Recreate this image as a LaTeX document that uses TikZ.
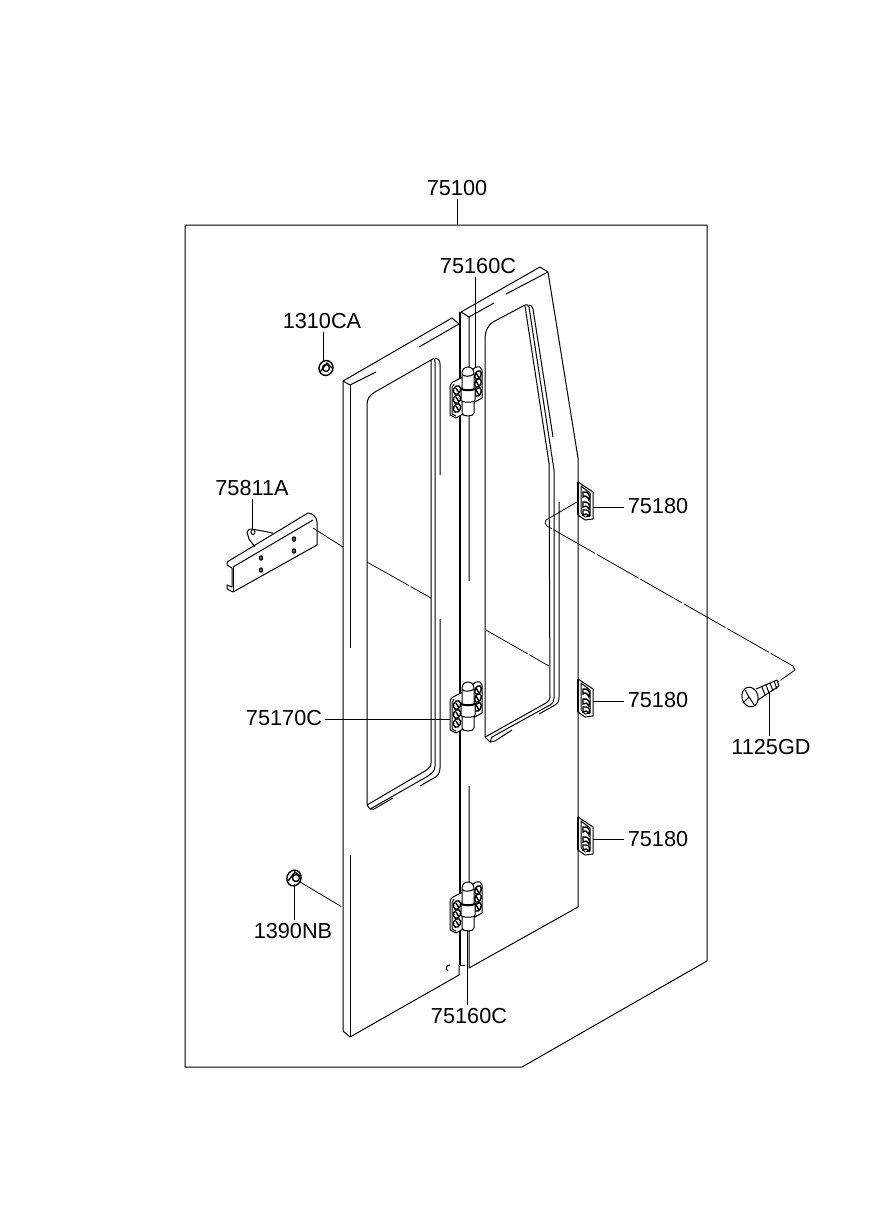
\documentclass[tikz,border=0pt]{standalone}
\usepackage{fontspec}
\setmainfont{Liberation Sans}
\tikzset{
  part/.style={line width=0.5pt,line join=round},
  thick door/.style={line width=1.1pt},
  leader/.style={line width=0.5pt},
  dash line/.style={line width=0.4pt,dash pattern=on 24pt off 1pt},
  label/.style={inner sep=1.5pt,font=\fontsize{10.85pt}{12pt}\selectfont},
  hinge/.pic={
    \draw[part,fill=white] (7,-21) .. controls (8,-24) and (12,-26) .. (15,-25) -- (17,-22) -- (17,6) -- (8,11) -- cycle;
    \draw[part,fill=white] (-2,-15) -- (-12,-10) .. controls (-15,-8) and (-15,-6) .. (-15,-4) -- (-15,23) -- (-9,26) -- (-2,22) -- cycle;
    \draw[part] (-11,-8) .. controls (-13,-6) and (-13,-4) .. (-13,-2) -- (-13,22) -- (-9,24);
    \draw[line width=0.7pt,fill=white,rotate around={-25:(-8,-2)}] (-8,-2) ellipse (3.5 and 4.5);
    \draw[line width=0.7pt,fill=white,rotate around={-25:(-8,7)}] (-8,7) ellipse (3.5 and 4.5);
    \draw[line width=0.7pt,fill=white,rotate around={-25:(-8,16)}] (-8,16) ellipse (3.5 and 4.5);
    \draw[line width=0.7pt] (-9,-4) -- (-6,1) (-9,5) -- (-6,10) (-9,14) -- (-6,19);
    \draw[line width=0.7pt,fill=white,rotate around={-25:(13,-17)}] (13,-17) ellipse (3 and 4.5);
    \draw[line width=0.7pt,fill=white,rotate around={-25:(13,-9)}] (13,-9) ellipse (3 and 4.5);
    \draw[line width=0.7pt,fill=white,rotate around={-25:(13,0)}] (13,0) ellipse (3 and 4.5);
    \draw[line width=0.7pt] (11,-19) -- (14,-14) (11,-11) -- (14,-6) (11,-2) -- (14,3);
    \draw[part,fill=white] (-3,-18) .. controls (-3,-22) and (-1,-25) .. (3,-25) .. controls (7,-25) and (9,-22) .. (9,-18) -- (9,21) .. controls (9,25) and (-3,25) .. (-3,21) -- cycle;
    \draw[part,fill=white] (-4,-4) .. controls (-4,-1) and (10,-1) .. (10,-4) -- (10,8) .. controls (10,11) and (-4,11) .. (-4,8) -- cycle;
    \draw[line width=1pt] (-4,-4) .. controls (-4,-1) and (10,-1) .. (10,-4);
    \draw[part] (-3,-18) .. controls (-2,-15) and (6,-15) .. (9,-18);
  },
  plate/.pic={
    \draw[part,fill=white] (0,0) -- (15,10) -- (15,37) -- (7,38) -- (0,33) -- cycle;
    \draw[thick door] (0,0) -- (0,33);
    \draw[part] (3,4) -- (12,11) -- (12,34) -- (7,35) -- (3,31) -- cycle;
    \draw[line width=0.7pt] (5,10) .. controls (10,9) and (13,13) .. (11,18) .. controls (9,14) and (7,13) .. (5,15) -- cycle;
    \draw[line width=0.7pt] (5,20) .. controls (10,19) and (13,23) .. (11,27) .. controls (9,24) and (7,23) .. (5,25) -- cycle;
    \draw[line width=0.7pt] (5,28) .. controls (10,27) and (13,30) .. (11,34) .. controls (9,32) and (7,31) .. (5,33) -- cycle;
  }
}
\begin{document}
\begin{tikzpicture}[x=0.5pt,y=-0.5pt]
  \useasboundingbox (0,0) rectangle (886,1211);
  \draw[part] (185,225) -- (707,225) -- (707,961) -- (522,1067) -- (185,1067) -- cycle;

  \draw[part] (343,381) -- (452,318) -- (459,324);
  \draw[part] (343,381) -- (350,385) -- (376,372);
  \draw[part] (419,347) -- (459,324);
  \draw[part] (343,381) -- (343,1031) -- (350,1037) -- (459,975) -- (459,965);
  \draw[part] (350,385) -- (350,648);
  \draw[part] (350,855) -- (350,1037);
  \draw[thick door] (460,312) -- (460,965);
  \draw[part] (460,965) -- (465,965);
  \draw[part] (461,312) -- (540,267) -- (548,272) -- (578,458) -- (578,907) -- (469,968) -- (469,786);
  \draw[part] (461,312) -- (469,317) -- (469,581);
  \draw[part] (469,317) -- (494,303);
  \draw[part] (506,294) -- (548,272);
  \draw[part] (448,971) .. controls (445,969) and (446,965) .. (450,965);

  \draw[part] (367,805) -- (367,405) .. controls (367,398) and (370,395) .. (375,392) -- (431,360) -- (431,763) .. controls (431,767) and (429,768) .. (425,771) -- (367,805);
  \draw[part] (431,360) .. controls (433,358) and (435,358) .. (435,362) -- (435,766) .. controls (435,771) and (432,773) .. (428,776) -- (372,808) -- (370,809) -- (367,805);
  \draw[part] (435,358) .. controls (438,358) and (440,360) .. (440,364) -- (440,475);
  \draw[part] (440,619) -- (440,768) .. controls (440,774) and (437,777) .. (432,779) -- (420,786);
  \draw[part] (370,809) -- (374,809) -- (393,798);

  \draw[part] (485,737) -- (485,340) .. controls (485,331) and (488,325) .. (493,322) -- (525,305) .. controls (527,304) and (528,305) .. (529,307);
  \draw[part] (525,306) -- (549,463) -- (550,697) .. controls (550,699) and (549,701) .. (546,703) -- (487,736) -- (485,737);
  \draw[part] (529,307) -- (554,470) -- (554,698) .. controls (554,701) and (553,703) .. (550,705) -- (492,737) -- (490,742) -- (485,737);
  \draw[part] (529,305) .. controls (531,305) and (532,306) .. (533,309) -- (553,437);
  \draw[part] (559,502) -- (559,697) .. controls (559,701) and (558,703) .. (555,705) -- (539,714);
  \draw[part] (490,742) -- (495,741) -- (512,730);

  \pic at (465,392) {hinge};
  \pic at (465,707) {hinge};
  \pic at (465,907) {hinge};
  \pic at (578,482) {plate};
  \pic at (578,679) {plate};
  \pic at (578,817) {plate};

  \draw[part,fill=white] (227,562) -- (308,513) .. controls (312,513) and (317,517) .. (317,522) -- (317,545) -- (233,592) -- (227,589) -- (227,585) -- (232,587) -- (232,568) -- (227,565) -- cycle;
  \draw[part] (233,567) -- (313,520);
  \draw[part] (233,567) -- (233,592);
  \draw[part] (247,532) .. controls (248,529) and (250,529) .. (252,529) -- (273,533);
  \draw[part] (247,532) -- (249,539) -- (255,547);
  \draw[part] (253,532) ellipse (2 and 2.5);
  \draw[part,fill=black!60] (261,558) ellipse (1.7 and 2.2);
  \draw[part,fill=black!60] (261,570) ellipse (1.7 and 2.2);
  \draw[part,fill=black!60] (294,539) ellipse (1.7 and 2.2);
  \draw[part,fill=black!60] (294,551) ellipse (1.7 and 2.2);

  \draw[dash line] (313,528) -- (343,547);
  \draw[dash line] (367,562) -- (431,598);
  \draw[dash line] (486,630) -- (549,666);
  \draw[dash line] (577,502) -- (546,520) .. controls (544,522) and (545,524) .. (547,526) -- (793,666) -- (795,670) -- (778,682);
  \draw[dash line] (300,882) -- (342,907);

  \draw[line width=0.7pt,rotate around={-20:(326,368)}] (326,368) ellipse (7 and 7.5);
  \draw[line width=0.7pt] (326,368) circle (3.5);
  \draw[line width=0.7pt] (320,372) -- (327,363) -- (332,368);
  \draw[line width=0.7pt,rotate around={-20:(294,878)}] (294,878) ellipse (7 and 8);
  \draw[line width=0.7pt] (296,878) circle (3.5);
  \draw[line width=0.7pt] (288,881) -- (295,872) -- (300,876);

  \draw[part,fill=white,rotate around={15:(750,697)}] (750,697) ellipse (8 and 10);
  \draw[part] (745,690) -- (749,697) -- (755,706);
  \draw[part] (749,697) -- (743,703);
  \draw[part] (756,689) -- (777,680) -- (779,686) -- (758,700);
  \draw[part] (762,687) -- (765,695);
  \draw[part] (766,685) -- (769,693);
  \draw[part] (770,683) -- (773,691);
  \draw[part] (774,681) -- (777,689);

  \node[label] (lbl75100) at (457,188) {75100};
  \node[label] (lbl75160top) at (478,266) {75160C};
  \node[label] (lbl1310) at (322,321) {1310CA};
  \node[label] (lbl75811) at (252,488) {75811A};
  \node[label] (lbl75170) at (284,718) {75170C};
  \node[label] (lbl1390) at (293,931) {1390NB};
  \node[label] (lbl75160bot) at (469,1016) {75160C};
  \node[label] (lbl1125) at (771,747) {1125GD};
  \node[label] (lbl75180a) at (658,506) {75180};
  \node[label] (lbl75180b) at (658,700) {75180};
  \node[label] (lbl75180c) at (658,839) {75180};

  \coordinate (frametop) at (457,225);
  \coordinate (hingetop) at (475,368);
  \coordinate (nuttop) at (323,361);
  \coordinate (bartab) at (252,529);
  \coordinate (hingemid) at (450,719);
  \coordinate (nutlow) at (294,884);
  \coordinate (hingelow) at (467,930);
  \coordinate (boltend) at (769,692);
  \coordinate (platea) at (593,507);
  \coordinate (plateb) at (593,701);
  \coordinate (platec) at (593,839);

  \draw[leader] (frametop |- lbl75100.south) -- (frametop);
  \draw[leader] (hingetop |- lbl75160top.south) -- (hingetop);
  \draw[leader] (nuttop |- lbl1310.south) -- (nuttop);
  \draw[leader] (bartab |- lbl75811.south) -- (bartab);
  \draw[leader] (hingemid -| lbl75170.east) -- (hingemid);
  \draw[leader] (nutlow |- lbl1390.north) -- (nutlow);
  \draw[leader] (hingelow |- lbl75160bot.north) -- (hingelow);
  \draw[leader] (boltend |- lbl1125.north) -- (boltend);
  \draw[leader] (platea -| lbl75180a.west) -- (platea);
  \draw[leader] (plateb -| lbl75180b.west) -- (plateb);
  \draw[leader] (platec -| lbl75180c.west) -- (platec);
\end{tikzpicture}
\end{document}
